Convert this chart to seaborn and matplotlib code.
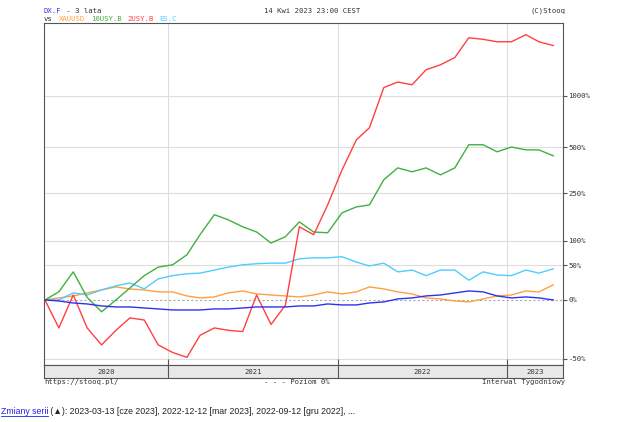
import numpy as np
import pandas as pd
import matplotlib
matplotlib.use("Agg")
import matplotlib.pyplot as plt
import seaborn as sns

dates = pd.date_range("2020-04-10", periods=37, freq=pd.DateOffset(months=1))

dx_f = [0, -1.2, -3.5, -4.6, -6.8, -7.9, -7.9, -9, -10, -11.1, -11.1, -11.1, -10, -10, -9, -7.9, -7.9, -7.9,
        -6.8, -6.8, -4.6, -5.7, -5.7, -3.5, -2.3, 1.2, 2.4, 4.8, 6, 8.6, 11.1, 9.9, 4.8, 2.4, 3.6, 2.4, 0]
xauusd = [0, 2.4, 4.8, 8.6, 12.5, 16.5, 13.8, 12.5, 9.9, 9.9, 4.8, 2.4, 3.6, 8.6, 11.1, 7.3, 6, 4.8,
          3.6, 6, 9.9, 7.3, 9.9, 16.5, 13.8, 9.9, 7.3, 2.4, 1.2, -1.2, -2.3, 1.2, 4.8, 6, 11.1, 9.9, 19.3]
us10y = [0, 10, 39, 3, -13, 0, 15, 33, 47, 51, 70, 115, 172, 156, 136, 122, 95, 110,
         150, 122, 120, 178, 198, 205, 310, 371, 350, 371, 334, 371, 518, 518, 469, 502, 482, 482, 443]
us2y = [0, -28, 6, -28, -41, -30, -19, -21, -41, -46, -49, -34, -28, -30, -31, 6, -25, -6,
        136, 115, 205, 360, 555, 654, 1110, 1190, 1150, 1390, 1480, 1620, 2070, 2030, 1970, 1970, 2150, 1970, 1880]
es_c = [0, 0, 8.6, 6, 12.5, 18, 22, 14, 28, 33, 36, 37, 42, 47, 51, 53, 54, 54,
        62, 64, 64, 66, 56, 49, 54, 39, 42, 33, 42, 42, 26, 39, 34, 33, 42, 37, 44]

names = ["DX.F", "XAUUSD", "10USY.B", "2USY.B", "ES.C"]
colors = ["#3030f0", "#ffa040", "#40b040", "#ff4040", "#50ccff"]
series = [dx_f, xauusd, us10y, us2y, es_c]

df = pd.concat([pd.DataFrame({"date": dates, "pct": s, "name": n}) for n, s in zip(names, series)])

fig = plt.figure(figsize=(6.25, 4.22), dpi=100)
W, H = 625, 422
L, R, T, B = 44, 563, 23, 365
ax = fig.add_axes([L / W, 1 - B / H, (R - L) / W, (B - T) / H])

fwd = lambda p: np.log2(np.maximum(1 + np.asarray(p) / 100, 1e-6))
inv = lambda v: (2 ** np.asarray(v) - 1) * 100
ax.set_yscale("function", functions=(fwd, inv))

sns.lineplot(data=df, x="date", y="pct", hue="name",
             hue_order=["XAUUSD", "ES.C", "10USY.B", "2USY.B", "DX.F"],
             palette=dict(zip(names, colors)), ax=ax, legend=False, linewidth=1.0)

ax.set_ylim(-53.4, 2480)
x0, x1 = pd.Timestamp("2020-04-08"), pd.Timestamp("2023-05-01")
ax.set_xlim(x0, x1)
years = [pd.Timestamp(f"{y}-01-01") for y in (2021, 2022, 2023)]
ax.set_xticks(years)
ax.set_xticklabels([])
ax.tick_params(axis="x", direction="in", length=4, color="#555")
for y in years:
    ax.axvline(y, color="#dddddd", lw=0.8, zorder=0)
for v in [-50, 50, 100, 250, 500, 1000]:
    ax.axhline(v, color="#dddddd", lw=0.8, zorder=0)
ax.axhline(0, color="#aaaaaa", lw=0.8, ls=(0, (2, 2)), zorder=0)
ax.yaxis.tick_right()
ax.set_yticks([-50, 0, 50, 100, 250, 500, 1000])
ax.set_yticklabels(["-50%", "0%", "50%", "100%", "250%", "500%", "1000%"],
                   family="DejaVu Sans Mono", fontsize=5.2)
ax.tick_params(axis="y", direction="out", length=3, color="#555", pad=1, labelcolor="#333")
ax.set_xlabel("")
ax.set_ylabel("")
for s in ax.spines.values():
    s.set_color("#555555")
    s.set_linewidth(0.8)

band = fig.add_axes([L / W, 1 - 378 / H, (R - L) / W, 13 / H])
band.set_facecolor("#e8e8e8")
band.set_xlim(x0, x1)
band.set_ylim(0, 1)
band.set_xticks([])
band.set_yticks([])
for s in band.spines.values():
    s.set_color("#555555")
    s.set_linewidth(0.8)
edges = [x0] + years + [x1]
for y in years:
    band.axvline(y, color="#555", lw=0.8)
for a, b, lab in zip(edges[:-1], edges[1:], ["2020", "2021", "2022", "2023"]):
    band.text(a + (b - a) / 2, 0.45, lab, ha="center", va="center",
              family="DejaVu Sans Mono", fontsize=5.2, color="#333")

mono = dict(family="DejaVu Sans Mono", fontsize=5.2)
def px(x, y):
    return x / W, 1 - y / H

t1 = fig.text(*px(44, 11), "DX.F", color=colors[0], va="center", **mono)
fig.canvas.draw()
fig.text(t1.get_window_extent().x1 / W, 1 - 11 / H, " - 3 lata", color="#333", va="center", **mono)
fig.text(*px(312, 11), "14 Kwi 2023 23:00 CEST", color="#333", ha="center", va="center", **mono)
fig.text(*px(565, 11), "(C)Stooq", color="#333", ha="right", va="center", **mono)
fig.text(*px(44, 19), "vs", color="#333", va="center", **mono)
for t, c, xx in [("XAUUSD", colors[1], 59), ("10USY.B", colors[2], 91),
                 ("2USY.B", colors[3], 127), ("ES.C", colors[4], 159)]:
    fig.text(*px(xx, 19), t, color=c, va="center", **mono)

fig.text(*px(44, 382), "https://stooq.pl/", color="#333", va="center", **mono)
fig.text(*px(297, 382), "- - - Poziom 0%", color="#333", ha="center", va="center", **mono)
fig.text(*px(565, 382), "Interwal Tygodniowy", color="#333", ha="right", va="center", **mono)

ft = fig.text(*px(1, 411), "Zmiany serii", color="#2222ee", va="center", fontsize=6.3,
              family="Liberation Sans")
fig.canvas.draw()
bb = ft.get_window_extent()
fig.text(bb.x1 / W, 1 - 411 / H, " (▲): 2023-03-13 [cze 2023], 2022-12-12 [mar 2023], 2022-09-12 [gru 2022], ...",
         color="#222", va="center", fontsize=6.3, family=["Liberation Sans", "DejaVu Sans"])
fig.add_artist(plt.Line2D([bb.x0 / W, bb.x1 / W], [1 - 415.5 / H] * 2, color="#2222ee", lw=0.6))

fig.savefig("out.png", dpi=100)
